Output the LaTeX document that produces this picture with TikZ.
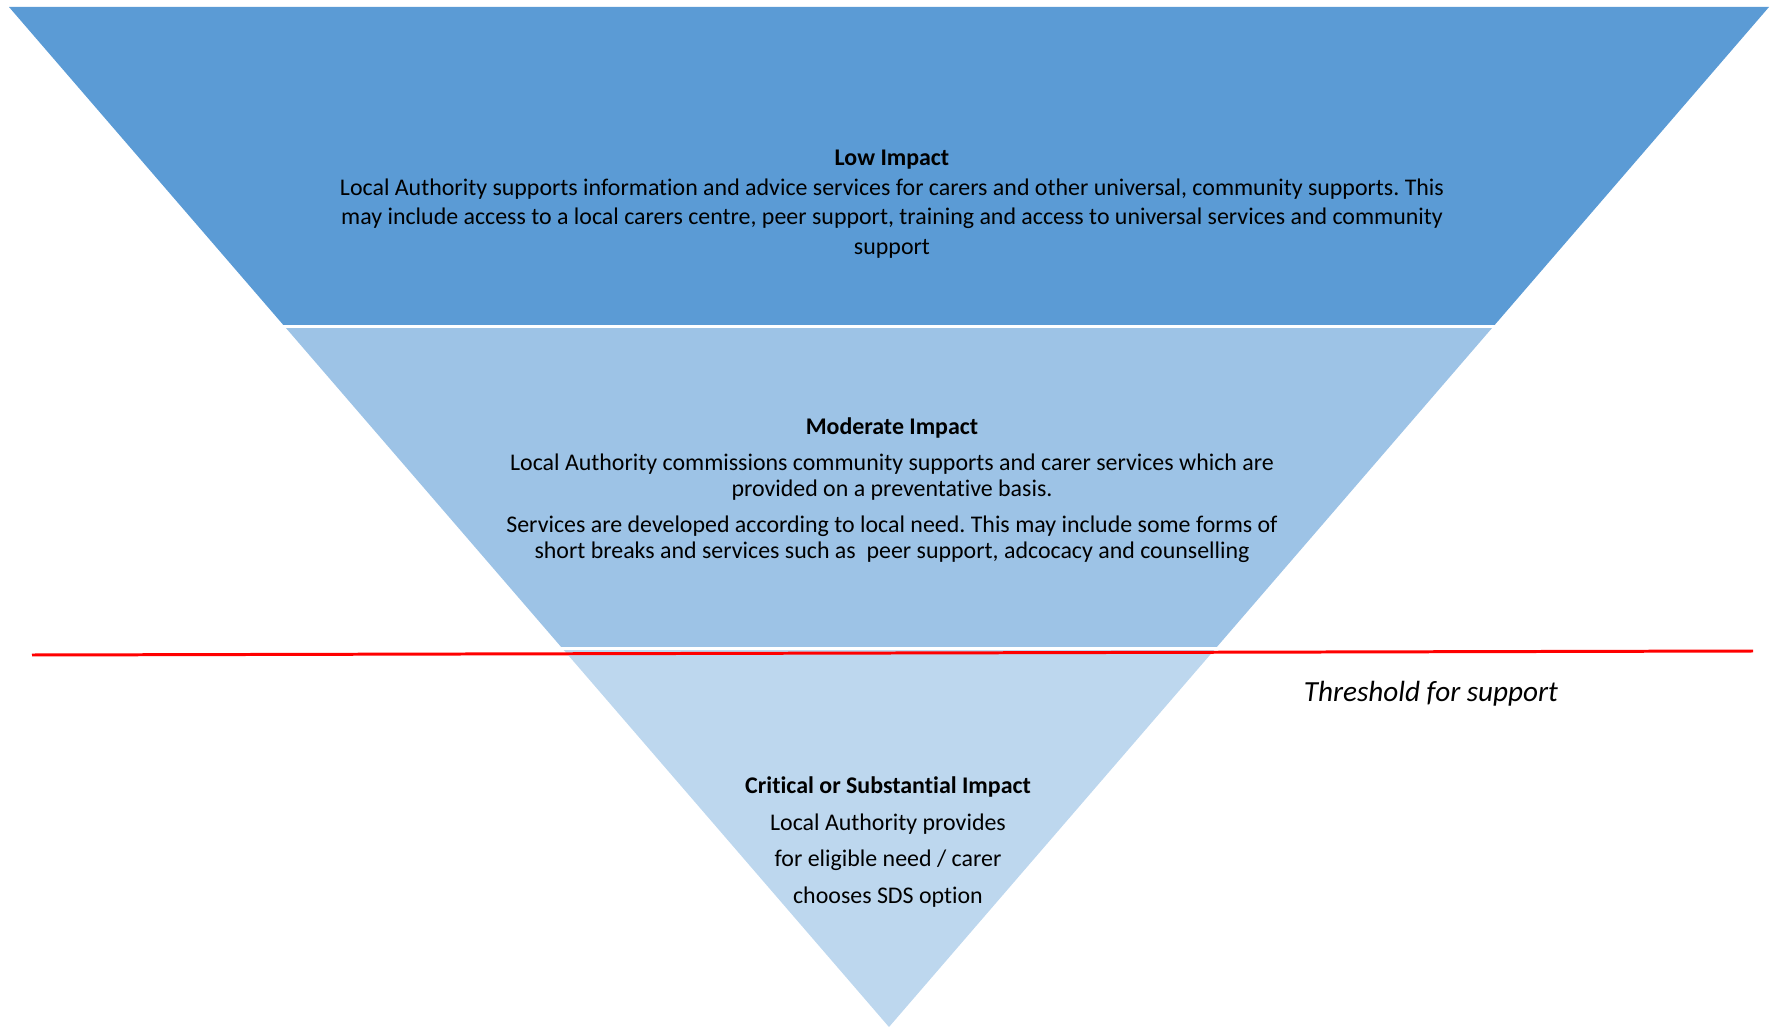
\documentclass[tikz,border=0pt]{standalone}
\usepackage{fontspec}
\setmainfont{Carlito}[Ligatures=NoCommon]
\usetikzlibrary{positioning}
\frenchspacing

\definecolor{lowblue}{HTML}{5B9BD5}
\definecolor{modblue}{HTML}{9DC3E6}
\definecolor{critblue}{HTML}{BDD7EE}

\begin{document}
\begin{tikzpicture}[x=0.01cm,y=-0.01cm,
                    every node/.style={inner sep=0pt,align=center,text=black},
                    band/.style={draw=none},
                    level/.style={font=\fontsize{6.8pt}{8.4pt}\selectfont}]
  \useasboundingbox (0,0) rectangle (1771,1027);

  % corners of the funnel
  \coordinate (TL) at (9,7);
  \coordinate (TR) at (1769,7);
  \coordinate (tip) at (889,1027);

  \begin{scope}
    \clip (TL) -- (TR) -- (tip) -- cycle;
    \fill[band,lowblue]  (0,0)     rectangle (1771,325);
    \fill[band,modblue]  (0,327.5) rectangle (1771,647);
    \fill[band,critblue] (0,649.5) rectangle (1771,1030);
  \end{scope}

  % threshold line
  \coordinate (thL) at (32,655);
  \coordinate (thR) at (1753,651);
  \draw[red,line width=0.85pt] (thL) -- (thR);

  \node[level] (low) at (892,204)
    {\textbf{Low Impact}\\
     Local Authority supports information and advice services for carers and other universal, community supports. This\\
     may include access to a local carers centre, peer support, training and access to universal services and community\\
     support};

  \node[level,font=\fontsize{6.8pt}{7.4pt}\selectfont] (moderate) at (892,490)
    {\textbf{Moderate Impact}\\[2.8pt]
     Local Authority commissions community supports and carer services which are\\
     provided on a preventative basis.\\[2.8pt]
     Services are developed according to local need. This may include some forms of\\
     short breaks and services such as\ \ peer support, adcocacy and counselling};

  \node[level,font=\fontsize{6.8pt}{10.5pt}\selectfont] (critical) at (888,842)
    {\textbf{Critical or Substantial Impact}\\
     Local Authority provides\\
     for eligible need / carer\\
     chooses SDS option};

  \node[font=\fontsize{8.3pt}{9pt}\itshape] (threshold) at (1431,694) {Threshold for support};
\end{tikzpicture}
\end{document}
